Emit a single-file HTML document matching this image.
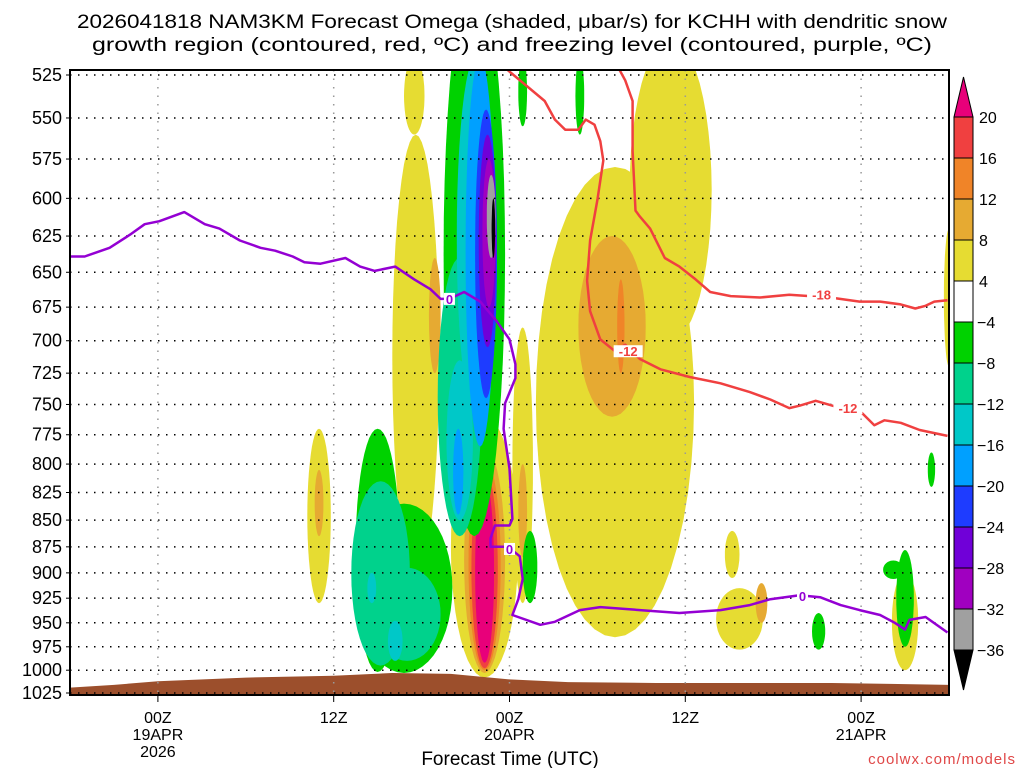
<!DOCTYPE html>
<html><head><meta charset="utf-8"><style>
body{margin:0;background:#fff;}
svg text{font-family:"Liberation Sans",sans-serif;}
</style></head><body>
<svg id="chart" width="1024" height="768" xmlns="http://www.w3.org/2000/svg">
<text x="512" y="28" font-size="19" text-anchor="middle" textLength="870" lengthAdjust="spacingAndGlyphs">2026041818 NAM3KM Forecast Omega (shaded, μbar/s) for KCHH with dendritic snow</text>
<text x="512" y="51" font-size="19" text-anchor="middle" textLength="840" lengthAdjust="spacingAndGlyphs">growth region (contoured, red, ºC) and freezing level (contoured, purple, ºC)</text>
<defs><clipPath id="pc"><rect x="70" y="70" width="879" height="625"/></clipPath></defs>
<g id="shade" clip-path="url(#pc)"></g>
<g id="grid"></g>
<g id="lines" clip-path="url(#pc)"></g>
<rect x="70" y="70" width="879" height="625" fill="none" stroke="#000" stroke-width="2"/>
<g id="axes"></g>
<g id="cbar"></g>
<text x="510" y="765" font-size="19" text-anchor="middle">Forecast Time (UTC)</text>
<text x="1016" y="764" font-size="15" text-anchor="end" fill="#e04848" letter-spacing="1">coolwx.com/models</text>
</svg>
<script>
const pressureTicks=[525,550,575,600,625,650,675,700,725,750,775,800,825,850,875,900,925,950,975,1000,1025];
const timeTickHours=[6,18,30,42,54];
const timeTickLabels=[["00Z","19APR","2026"],["12Z"],["00Z","20APR"],["12Z"],["00Z","21APR"]];
const cbarLevels=["20","16","12","8","4","-4","-8","-12","-16","-20","-24","-28","-32","-36"];
const cbarColors=["#f04040","#f08428","#e6aa32","#e6dc32","#ffffff","#00d200","#00d28c","#00c8c8","#00a0ff","#1e3cff","#7000d8","#a000c0","#a0a0a0"];
// blobs: [centerHour, topP, bottomP, halfWidthHours]
const blobsYellow=[[23.5,515,560,0.7],[23.6,560,905,1.6],[17.0,770,930,0.8],[37.2,580,965,5.4],[41,505,700,2.8],[28.3,760,1008,2.3],[30.9,690,930,0.7],[45.7,915,978,1.6],[45.2,860,905,0.5],[57.0,900,1000,0.9],[60.0,620,720,0.35]];
const blobsOrange=[[17.0,805,865,0.3],[24.9,640,725,0.4],[37.0,625,760,2.3],[28.3,785,1003,1.4],[30.9,800,885,0.3],[47.2,910,950,0.4]];
const blobsDarkOrange=[[37.6,655,725,0.25],[28.3,795,1000,1.1]];
const blobsMagenta=[[28.3,805,998,0.9]];
const blobsGreen=[[27.6,470,865,2.1],[21.0,770,1002,1.5],[22.8,835,1003,3.3],[34.8,515,560,0.3],[30.9,515,555,0.3],[31.4,860,930,0.5],[57.0,878,975,0.6],[51.1,940,978,0.45],[58.8,790,820,0.25],[56.2,888,906,0.7]];
const blobsTeal=[[26.6,640,865,1.5],[21.2,815,995,2.0],[23.0,895,990,2.3]];
const blobsCyan=[[26.6,715,850,0.9],[27.7,515,760,1.3],[20.6,900,930,0.3],[22.2,948,990,0.5]];
const blobsLightBlue=[[28.0,515,785,1.0],[26.5,770,845,0.35]];
const blobsBlue=[[28.4,545,745,0.75]];
const blobsPurple=[[28.5,560,705,0.6]];
const blobsMagPurple=[[28.6,575,675,0.45]];
const blobsGray=[[28.75,585,640,0.3]];
const blobsBlack=[[28.9,600,640,0.12]];
const freezeHours=[0,1.0,2.7,4.1,5.1,6.1,7.8,9.2,10.2,11.6,13.0,14.0,15.2,16.0,17.1,18.8,19.8,20.8,22.2,23.5,24.6,25.3,25.9,26.9,28.0,29.1,30.0,30.4,30.4,29.7,29.6,30.0,30.2,30.0,29.0,28.7,28.7,29.9,30.7,30.9,30.6,30.2,32.1,33.1,34.8,36.2,38.9,41.6,44.4,46.4,47.8,49.8,51.2,52.6,53.9,55.3,56.3,57.0,57.3,58.4,59.9];
const freezeP=[639,639,633,624,617,615,609,617,620,628,633,635,639,643,644,640,646,649,646,655,662,669,669,664,671,685,699,718,729,749,770,804,849,855,855,867,875,875,884,906,926,942,952,949,937,934,937,940,937,932,926,922,924,932,937,942,950,957,947,944,960];
const redAHours=[29.7,32.4,33.1,33.8,34.7,35.2,35.8,36.2,36.4,36.0,35.5,35.3,35.5,36.2,37.2,37.9,38.9,40.3,42.3,44.4,46.4,47.8,49.1,49.8,50.9,52.6,53.9,54.9,55.6,56.7,58.0,59.9];
const redAP=[521,540,551,557,557,551,554,564,576,601,628,656,678,699,708,703,714,722,728,733,740,746,753,751,747,753,755,767,763,765,771,776];
const redBHours=[37.5,37.9,38.4,38.4,38.6,38.9,39.6,40.6,41.6,42.7,43.7,45.1,47.1,49.1,51.9,53.9,55.3,56.7,57.7,58.4,59.0,59.9];
const redBP=[522,528,540,570,608,612,620,640,646,655,664,667,668,666,668,671,671,673,676,674,671,670];
const terrainHours=[0,3,6,12,18,22,26,30,34,40,46,52,56,60];
const terrainP=[1019,1016,1012,1008,1006,1003,1004,1010,1013,1014,1014,1014,1015,1016];

const X0=70,X1=949,H0=0,H1=60,Y0=75,Y1=693;
const LN0=Math.log(525),LN1=Math.log(1025);
function xs(h){return X0+(h-H0)/(H1-H0)*(X1-X0);}
function ys(p){return Y0+(Math.log(p)-LN0)/(LN1-LN0)*(Y1-Y0);}
const NS="http://www.w3.org/2000/svg";
function mk(tag,attrs,parent){const e=document.createElementNS(NS,tag);for(const k in attrs)e.setAttribute(k,attrs[k]);parent.appendChild(e);return e;}
const shadeG=document.getElementById('shade'),gridG=document.getElementById('grid'),linesG=document.getElementById('lines'),axesG=document.getElementById('axes'),cbarG=document.getElementById('cbar');

function drawBlobs(list,color,name){
  list.forEach(b=>{
    const c=b[0],pt=b[1],pb=b[2],hw=b[3];let d="";
    const lt=Math.log(pt),lb=Math.log(pb);
    for(let i=0;i<=48;i++){const t=i/48*2*Math.PI;
      const h=c+hw*Math.cos(t);
      const lp=(lt+lb)/2+(lb-lt)/2*Math.sin(t);
      d+=(i?"L":"M")+xs(h).toFixed(1)+","+(Y0+(lp-LN0)/(LN1-LN0)*(Y1-Y0)).toFixed(1);}
    const e=mk('path',{d:d+"Z",fill:color},shadeG);
    
    
  });
}
drawBlobs(blobsYellow,"#e6dc32","omega-4-8");
drawBlobs(blobsOrange,"#e6aa32","omega-8-12");
drawBlobs(blobsDarkOrange,"#f08428","omega-12-16");
drawBlobs(blobsMagenta,"#f04040","omega-16-20");
drawBlobs(blobsMagenta.map(b=>[b[0],b[1]+8,b[2]-6,b[3]*0.72]),"#e8007a","omega-above-20");
drawBlobs(blobsGreen,"#00d200","omega-neg4-8");
drawBlobs(blobsTeal,"#00d28c","omega-neg8-12");
drawBlobs(blobsCyan,"#00c8c8","omega-neg12-16");
drawBlobs(blobsLightBlue,"#00a0ff","omega-neg16-20");
drawBlobs(blobsBlue,"#1e3cff","omega-neg20-24");
drawBlobs(blobsPurple,"#7000d8","omega-neg24-28");
drawBlobs(blobsMagPurple,"#a000c0","omega-neg28-32");
drawBlobs(blobsGray,"#a0a0a0","omega-neg32-36");
drawBlobs(blobsBlack,"#000000","omega-below-36");

// terrain
let td="M"+xs(0)+","+ys(1025);
terrainHours.forEach((h,i)=>{td+="L"+xs(h).toFixed(1)+","+ys(terrainP[i]).toFixed(1);});
td+="L"+xs(60)+","+(Y1+3)+"L"+xs(0)+","+(Y1+3)+"Z";
const terr=mk('path',{d:td,fill:"#9c4f2c"},shadeG);



// grid
pressureTicks.forEach(p=>{
  const gl=mk('line',{x1:X0,x2:X1,y1:ys(p),y2:ys(p),stroke:"#000","stroke-dasharray":"1.5 6.5","stroke-width":1.5},gridG);
  
  
  const tk=mk('line',{x1:X0-4,x2:X0,y1:ys(p),y2:ys(p),stroke:"#000"},axesG);
  
  
  const t=mk('text',{x:X0-8,y:ys(p)+6,"font-size":18,"text-anchor":"end"},axesG);
  t.textContent=p;
  
  
});
timeTickHours.forEach((h,i)=>{
  const gl=mk('line',{x1:xs(h),x2:xs(h),y1:Y0-5,y2:Y1,stroke:"#999","stroke-dasharray":"1.5 7","stroke-width":1.5},gridG);
  
  
  const tk=mk('line',{x1:xs(h),x2:xs(h),y1:Y1+2,y2:Y1+9,stroke:"#000"},axesG);
  
  
  timeTickLabels[i].forEach((s,j)=>{
    const t=mk('text',{x:xs(h),y:723+j*17,"font-size":16,"text-anchor":"middle"},axesG);
    t.textContent=s;
    
    
  });
});

function drawLine(hs,ps,color,name){
  const d=hs.map((h,i)=>(i?"L":"M")+xs(h).toFixed(1)+","+ys(ps[i]).toFixed(1)).join("");
  const e=mk('path',{d:d,fill:"none",stroke:color,"stroke-width":2.5,"stroke-linejoin":"round"},linesG);
  
  
}
drawLine(freezeHours,freezeP,"#9400d3","freezing-level-line");
drawLine(redAHours,redAP,"#f04040","dgz-minus12-line");
drawLine(redBHours,redBP,"#f04040","dgz-minus18-line");
function lbl(h,p,s,color,name){
  const w=s.length*9+2;
  const bg=mk('rect',{x:xs(h)-w/2,y:ys(p)-6,width:w,height:12,fill:"#fff"},linesG);
  
  
  const t=mk('text',{x:xs(h),y:ys(p)+5,"font-size":13,"font-weight":"bold","text-anchor":"middle",fill:color},linesG);
  t.textContent=s;
  
  
}
lbl(25.9,669,"0","#9400d3","freezing-label");
lbl(30.0,877,"0","#9400d3","freezing-label");
lbl(50.0,923,"0","#9400d3","freezing-label");
lbl(38.1,708,"-12","#f04040","dgz-label");
lbl(53.1,753,"-12","#f04040","dgz-label");
lbl(51.3,666,"-18","#f04040","dgz-label");

// colorbar
const cbX=954,cbW=19,cbTop=117,cbBot=650,cbN=cbarColors.length,cbSeg=(cbBot-cbTop)/cbN;
const upArrow=mk('path',{d:`M${cbX},${cbTop}L${cbX+cbW/2},77L${cbX+cbW},${cbTop}Z`,fill:"#e8007a",stroke:"#000"},cbarG);


cbarColors.forEach((c,i)=>{
  const r=mk('rect',{x:cbX,y:cbTop+i*cbSeg,width:cbW,height:cbSeg,fill:c,stroke:"#000","stroke-width":1},cbarG);
  
  
});
const dnArrow=mk('path',{d:`M${cbX},${cbBot}L${cbX+cbW/2},690L${cbX+cbW},${cbBot}Z`,fill:"#000",stroke:"#000"},cbarG);


cbarLevels.forEach((s,i)=>{
  const t=mk('text',{x:s[0]==="-"?977:979,y:cbTop+i*cbSeg+6,"font-size":16},cbarG);
  t.textContent=s.replace("-","−");
  
  
});
</script>
</body></html>
